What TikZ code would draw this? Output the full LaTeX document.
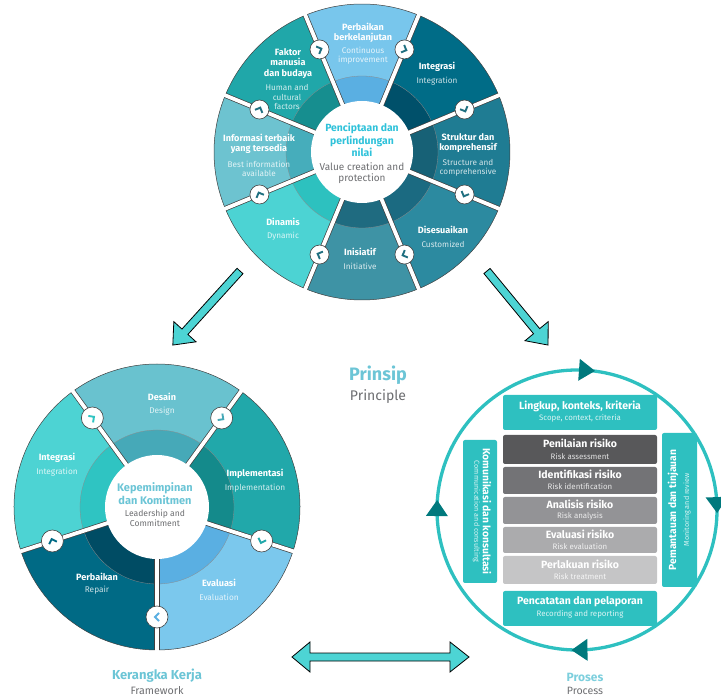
\documentclass[tikz,border=0pt]{standalone}
\usepackage{fontspec}
\setmainfont{Fira Sans}
\definecolor{tA}{HTML}{78C6EC}\definecolor{tAi}{HTML}{5AAFE2}
\definecolor{tB}{HTML}{006C87}\definecolor{tBi}{HTML}{00506A}
\definecolor{tC}{HTML}{1F7C93}\definecolor{tCi}{HTML}{176176}
\definecolor{tD}{HTML}{2C8AA0}\definecolor{tDi}{HTML}{1B6A81}
\definecolor{tE}{HTML}{3E93A5}\definecolor{tEi}{HTML}{1F6B80}
\definecolor{tF}{HTML}{4CD3D3}\definecolor{tFi}{HTML}{2DC1BF}
\definecolor{tG}{HTML}{6DC3D0}\definecolor{tGi}{HTML}{46ADBB}
\definecolor{tH}{HTML}{20A7A9}\definecolor{tHi}{HTML}{168E8F}
\definecolor{lA}{HTML}{69C2CF}\definecolor{lAi}{HTML}{46A9B8}
\definecolor{lB}{HTML}{21A8AA}\definecolor{lBi}{HTML}{148A8B}
\definecolor{lC}{HTML}{7BC8ED}\definecolor{lCi}{HTML}{5AAFE2}
\definecolor{lD}{HTML}{006A85}\definecolor{lDi}{HTML}{004C64}
\definecolor{lE}{HTML}{4DD3D3}\definecolor{lEi}{HTML}{2FC4C2}
\definecolor{topicon}{HTML}{1F6F80}
\definecolor{cyanT}{HTML}{2FC2DA}
\definecolor{lblT}{HTML}{6CC5D6}
\definecolor{procT}{HTML}{7DCFDD}
\definecolor{grayT}{HTML}{6D6E71}
\definecolor{boxT}{HTML}{2EC0C0}
\definecolor{ringT}{HTML}{2EC0C0}
\definecolor{arrT}{HTML}{00797D}
\definecolor{arrF}{HTML}{4DD4D4}
\definecolor{gA}{HTML}{58585A}\definecolor{gB}{HTML}{737376}
\definecolor{gC}{HTML}{939396}\definecolor{gD}{HTML}{ABABAD}
\definecolor{gE}{HTML}{C5C5C6}
\newcommand\wseg[6]{%
  \filldraw[fill=#5, draw=black!75, line width=0.5pt] (0,0) -- (#1:#3) arc[start angle=#1, end angle=#2, radius=#3] -- cycle;
  \filldraw[fill=#6, draw=black!45, line width=0.3pt] (0,0) -- (#1:#4) arc[start angle=#1, end angle=#2, radius=#4] -- cycle;}
\newcommand\wdiv[3]{%
  \draw[black!75, line width=5.2pt] (#1:40) -- (#1:#2);
  \draw[white, line width=3.8pt] (#1:40) -- (#1:#3);}
\newcommand\wcirc[4]{%
  \filldraw[fill=white, draw=black!75, line width=0.6pt] (#1:#2) circle[radius=#3];
  \begin{scope}[shift={(#1:#2)}, rotate=#1-90]
    \draw[#4, line width=1.9pt, line join=miter] (-2,4) -- (2,0) -- (-2,-4);
  \end{scope}}
\newcommand\parr[1]{%
  \fill[arrT, shift={(#1:140)}, rotate=#1-90] (-8,11) -- (8,0) -- (-8,-11) -- cycle;}
\begin{document}
\begin{tikzpicture}[x=1pt,y=1pt,
  bl/.style={font=\bfseries\fontsize{9.1}{10.5}\selectfont, text=white, align=center, inner sep=0},
  en/.style={font=\fontsize{8.2}{9.2}\selectfont, text=white, text opacity=0.8, align=center, inner sep=0},
  blL/.style={font=\bfseries\fontsize{9.1}{10.5}\selectfont, text=white, align=center, inner sep=0},
  enL/.style={font=\fontsize{8.3}{9.5}\selectfont, text=white, text opacity=0.8, align=center, inner sep=0},
  pbox/.style={rounded corners=2pt, inner sep=0, minimum width=154pt},
  pbl/.style={font=\bfseries\fontsize{10.5}{11}\selectfont, text=white, inner sep=0},
  pen/.style={font=\fontsize{7.9}{8.5}\selectfont, text=white, text opacity=0.82, inner sep=0},
  blockarrow/.style={fill=arrF, draw=black, line width=0.8pt, line join=miter}]
\useasboundingbox (0,0) rectangle (721,697);

% ---------------- top wheel ----------------
\begin{scope}[shift={(362,545)}]
  \wseg{67.5}{112.5}{148}{76}{tA}{tAi}
  \wseg{22.5}{67.5}{148}{76}{tB}{tBi}
  \wseg{-22.5}{22.5}{148}{76}{tC}{tCi}
  \wseg{-67.5}{-22.5}{148}{76}{tD}{tDi}
  \wseg{-112.5}{-67.5}{148}{76}{tE}{tEi}
  \wseg{-157.5}{-112.5}{148}{76}{tF}{tFi}
  \wseg{157.5}{202.5}{148}{76}{tG}{tGi}
  \wseg{112.5}{157.5}{148}{76}{tH}{tHi}
  \foreach \a in {22.5,67.5,112.5,157.5,202.5,247.5,292.5,337.5}{\wdiv{\a}{148}{150}}
  \fill[white] (0,0) circle[radius=51];
  \foreach \a in {22.5,67.5,112.5,157.5,202.5,247.5,292.5,337.5}{\wcirc{\a}{111}{9.5}{topicon}}
\end{scope}
\node[font=\bfseries\fontsize{10.4}{12.5}\selectfont, text=cyanT, align=center, inner sep=0] (pcb) at (362,557) {Penciptaan dan\\perlindungan\\nilai};
\node[font=\fontsize{10}{10.5}\selectfont, text=grayT, align=center, inner sep=0] (pce) at (362,524) {Value creation and\\protection};
\node[bl] (t1b) at (363,664) {Perbaikan\\berkelanjutan};
\node[en] (t1e) at (363,641.5) {Continuous\\improvement};
\node[bl] (t2b) at (288,633.5) {Faktor\\manusia\\dan budaya};
\node[en] (t2e) at (287,600) {Human and\\cultural\\factors};
\node[bl] (t3b) at (437,630) {Integrasi};
\node[en] (t3e) at (437,616) {Integration};
\node[bl] (t4b) at (259,553) {Informasi terbaik\\yang tersedia};
\node[en] (t4e) at (259,528.5) {Best information\\available};
\node[bl] (t5b) at (468,554) {Struktur dan\\komprehensif};
\node[en] (t5e) at (468,529.5) {Structure and\\comprehensive};
\node[bl] (t6b) at (283,475) {Dinamis};
\node[en] (t6e) at (283,461) {Dynamic};
\node[bl] (t7b) at (360,445) {Inisiatif};
\node[en] (t7e) at (360,431) {Initiative};
\node[bl] (t8b) at (443,467) {Disesuaikan};
\node[en] (t8e) at (443,453) {Customized};

% ---------------- left wheel ----------------
\begin{scope}[shift={(157,190)}]
  \wseg{54}{126}{143}{77}{lA}{lAi}
  \wseg{126}{198}{143}{77}{lE}{lEi}
  \wseg{198}{270}{143}{77}{lD}{lDi}
  \wseg{270}{342}{143}{77}{lC}{lCi}
  \wseg{342}{414}{143}{77}{lB}{lBi}
  \foreach \a in {54,126,198,270,342}{\wdiv{\a}{143}{145}}
  \fill[white] (0,0) circle[radius=52];
  \wcirc{126}{110}{11}{lEi}
  \wcirc{54}{110}{11}{lAi}
  \wcirc{342}{110}{11}{lB}
  \wcirc{270}{110}{11}{lCi}
  \wcirc{198}{110}{11}{lD}
\end{scope}
\node[font=\bfseries\fontsize{11}{13}\selectfont, text=lblT, align=center, inner sep=0] (lcb) at (155,203.5) {Kepemimpinan\\dan Komitmen};
\node[font=\fontsize{8.6}{10}\selectfont, text=grayT, align=center, inner sep=0] (lce) at (155,179) {Leadership and\\Commitment};
\node[blL] (l1b) at (162,300) {Desain};
\node[enL] (l1e) at (162,286) {Design};
\node[blL] (l2b) at (57,239) {Integrasi};
\node[enL] (l2e) at (57,225) {Integration};
\node[blL] (l3b) at (255,223) {Implementasi};
\node[enL] (l3e) at (255,209) {Implementation};
\node[blL] (l4b) at (97,120) {Perbaikan};
\node[enL] (l4e) at (97,107) {Repair};
\node[blL] (l5b) at (219,114) {Evaluasi};
\node[enL] (l5e) at (219,100) {Evaluation};
\node[font=\bfseries\fontsize{13}{14}\selectfont, text=lblT, inner sep=0] (lkb) at (157,21) {Kerangka Kerja};
\node[font=\fontsize{10.7}{12}\selectfont, text=grayT, inner sep=0] (lke) at (157,6) {Framework};

% ---------------- principle label ----------------
\node[font=\bfseries\fontsize{18}{20}\selectfont, text=lblT, inner sep=0] (prb) at (378,322) {Prinsip};
\node[font=\fontsize{14}{16}\selectfont, text=grayT, inner sep=0] (pre) at (378,300) {Principle};

% ---------------- process ----------------
\coordinate (pc) at (577,187);
\draw[ringT, line width=3.3pt] (pc) circle[radius=140];
\begin{scope}[shift={(pc)}]
  \parr{85.9}\parr{2}\parr{271}\parr{179.2}
\end{scope}
\node[pbox, fill=boxT, minimum height=35pt] (b1) at (580,284.5) {};
\node[pbox, fill=gA, minimum height=29pt] (b2) at (580,247.5) {};
\node[pbox, fill=gB, minimum height=27pt] (b3) at (580,216.5) {};
\node[pbox, fill=gC, minimum height=27pt] (b4) at (580,186.5) {};
\node[pbox, fill=gD, minimum height=26pt] (b5) at (580,157) {};
\node[pbox, fill=gE, minimum height=28pt] (b6) at (580,127) {};
\node[pbox, fill=boxT, minimum height=35pt] (b7) at (580,88.5) {};
\node[pbox, fill=boxT, minimum width=34pt, minimum height=143pt] (bl) at (480,185.5) {};
\node[pbox, fill=boxT, minimum width=35pt, minimum height=154pt] (br) at (679.5,187) {};
\node[pbl] (b1b) at (580,291) {Lingkup, konteks, kriteria};
\node[pen] (b1e) at (580,279) {Scope, context, criteria};
\node[pbl] (b2b) at (580,254) {Penilaian risiko};
\node[pen] (b2e) at (580,241) {Risk assessment};
\node[pbl] (b3b) at (580,223) {Identifikasi risiko};
\node[pen] (b3e) at (580,211) {Risk identification};
\node[pbl] (b4b) at (580,193) {Analisis risiko};
\node[pen] (b4e) at (580,181) {Risk analysis};
\node[pbl] (b5b) at (580,163) {Evaluasi risiko};
\node[pen] (b5e) at (580,151) {Risk evaluation};
\node[pbl] (b6b) at (580,133) {Perlakuan risiko};
\node[pen] (b6e) at (580,121) {Risk treatment};
\node[pbl] (b7b) at (580,95) {Pencatatan dan pelaporan};
\node[pen] (b7e) at (580,83) {Recording and reporting};
\node[pbl, rotate=-90, font=\bfseries\fontsize{10.3}{11}\selectfont] (blb) at (487,185.5) {Komunikasi dan konsultasi};
\node[pen, rotate=-90, font=\fontsize{7.2}{8}\selectfont] (ble) at (476.5,185.5) {Communication and consulting};
\node[pbl, rotate=90, font=\bfseries\fontsize{10.3}{11}\selectfont] (brb) at (673,187) {Pemantauan dan tinjauan};
\node[pen, rotate=90, font=\fontsize{7.2}{8}\selectfont] (bre) at (687,187) {Monitoring and review};
\node[font=\bfseries\fontsize{12}{13}\selectfont, text=procT, inner sep=0] (psb) at (585,20) {Proses};
\node[font=\fontsize{10.6}{12}\selectfont, text=grayT, inner sep=0] (pse) at (585,6) {Process};

% ---------------- block arrows ----------------
\begin{scope}[shift={(240,426)}, rotate=-132.2]
  \filldraw[blockarrow] (0,4) -- (82,4) -- (82,15) -- (100,0) -- (82,-15) -- (82,-4) -- (0,-4) -- cycle;
\end{scope}
\begin{scope}[shift={(487,426)}, rotate=-50.5]
  \filldraw[blockarrow] (0,4) -- (78,4) -- (78,15) -- (96,0) -- (78,-15) -- (78,-4) -- (0,-4) -- cycle;
\end{scope}
\filldraw[blockarrow] (292,40) -- (310,55) -- (310,44) -- (450,44) -- (450,55) -- (469,40) -- (450,25) -- (450,36) -- (310,36) -- (310,25) -- cycle;
\end{tikzpicture}
\end{document}
